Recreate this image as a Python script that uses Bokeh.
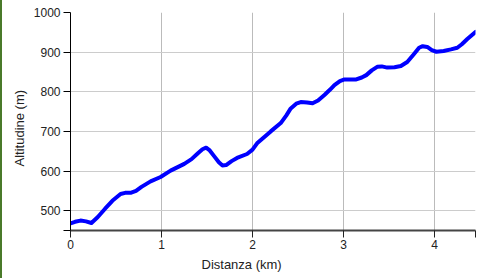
from bokeh.plotting import figure
from bokeh.models import FixedTicker, Range1d, Title
from bokeh.embed import file_html
from bokeh.resources import INLINE

# Distance (km) and altitude (m)
distance_km = [0.00, 0.05, 0.11, 0.17, 0.23, 0.30, 0.38, 0.46, 0.55, 0.60, 0.66, 0.72,
               0.78, 0.88, 0.99, 1.10, 1.25, 1.33, 1.40, 1.45, 1.49, 1.53, 1.58, 1.63,
               1.67, 1.71, 1.77, 1.83, 1.94, 2.00, 2.05, 2.20, 2.31, 2.37, 2.42, 2.48,
               2.53, 2.60, 2.66, 2.72, 2.79, 2.85, 2.90, 2.96, 3.01, 3.08, 3.14, 3.20,
               3.25, 3.31, 3.37, 3.42, 3.48, 3.56, 3.63, 3.70, 3.77, 3.83, 3.87, 3.92,
               3.97, 4.02, 4.10, 4.18, 4.25, 4.30, 4.36, 4.45]
altitude_m = [468, 472, 475, 473, 469, 484, 505, 525, 542, 545, 545, 550,
              560, 574, 585, 601, 618, 630, 645, 655, 659, 652, 637, 622,
              614, 615, 625, 633, 643, 654, 670, 700, 721, 740, 758, 770,
              774, 773, 771, 778, 792, 805, 817, 827, 831, 831, 831, 836,
              842, 854, 863, 864, 861, 862, 865, 875, 894, 911, 915, 913,
              905, 901, 903, 907, 911, 920, 933, 951]

x_ticks = [0, 1, 2, 3, 4, 4.45]
y_ticks = [450, 500, 600, 700, 800, 900, 1000]
x_title = "Distanza (km)"
y_title = "Altitudine (m)"

FONT = "Liberation Sans"

p = figure(width=476, height=278, output_backend="svg", toolbar_location=None,
           x_range=Range1d(0, 4.45), y_range=Range1d(450, 1000))
p.styles = {"border-left": "2px solid #4a7a2a"}
p.min_border_left = 68
p.min_border_right = 3
p.min_border_top = 12
p.min_border_bottom = 48
p.outline_line_color = None
p.background_fill_color = "white"
p.border_fill_color = "white"

p.line(distance_km, altitude_m, line_color="#0000ff", line_width=4,
       line_join="round", line_cap="round")

p.xaxis.ticker = FixedTicker(ticks=x_ticks)
p.xaxis.major_label_overrides = {4.45: ""}
p.yaxis.ticker = FixedTicker(ticks=y_ticks)
p.yaxis.major_label_overrides = {450: ""}

for ax in (p.xaxis[0], p.yaxis[0]):
    ax.minor_tick_line_color = None
    ax.major_tick_in = 0
    ax.major_tick_out = 7
    ax.major_label_text_font = FONT
    ax.major_label_text_font_size = "12px"
    ax.major_label_text_color = "#222222"

p.xaxis.axis_line_color = "#444444"
p.xaxis.axis_line_width = 2
p.xaxis.major_tick_line_color = "#222222"
p.xaxis.major_label_standoff = 2

p.yaxis.axis_line_color = "#000000"
p.yaxis.major_tick_line_color = "#000000"
p.yaxis.major_label_standoff = 3

# Axis titles placed like the reference (x title centred on the whole chart)
p.add_layout(Title(text=x_title, align="left", offset=131, standoff=7,
                   text_font=FONT, text_font_size="13px", text_font_style="normal",
                   text_color="#222222"), "below")
p.add_layout(Title(text=y_title, align="left", offset=64, standoff=8,
                   text_font=FONT, text_font_size="13px", text_font_style="normal",
                   text_color="#222222"), "left")

p.xgrid.grid_line_color = "#bbbbbb"
p.ygrid.grid_line_color = "#cccccc"
p.xgrid.ticker = FixedTicker(ticks=x_ticks)
p.ygrid.ticker = FixedTicker(ticks=[500, 600, 700, 800, 900, 1000])

open("out.html", "w").write(file_html(p, INLINE))
